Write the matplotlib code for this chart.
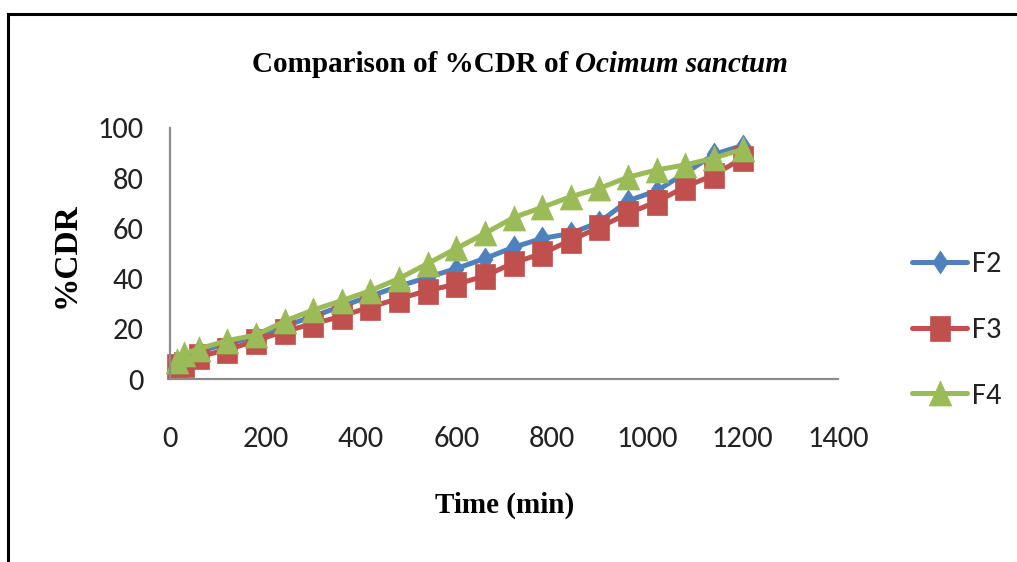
import matplotlib
matplotlib.use('Agg')
import matplotlib.pyplot as plt
from matplotlib.path import Path
from matplotlib.lines import Line2D
from matplotlib import font_manager

# ---------------- data ----------------
time_min = [15, 30, 60, 120, 180, 240, 300, 360, 420, 480, 540, 600,
            660, 720, 780, 840, 900, 960, 1020, 1080, 1140, 1200]
f2 = [6, 8, 11, 14, 17, 21, 25, 29, 33, 37, 40.5, 44,
      48, 52.5, 56, 58, 62.5, 71, 75, 82, 89.5, 93]
f3 = [5, 6, 9, 11.6, 15.3, 19, 22, 25, 28.8, 32, 35.2, 37.8,
      41, 46.3, 50, 55.3, 60.4, 66, 70.6, 76.6, 81.3, 88]
f4 = [7, 10, 12, 15.3, 17.5, 23, 27.5, 31.2, 35.2, 40, 46, 52,
      58, 64.3, 68.4, 72.6, 76, 80.4, 83.3, 85.3, 88, 91.5]
series_names = ['F2', 'F3', 'F4']
x_ticks = [0, 200, 400, 600, 800, 1000, 1200, 1400]
y_ticks = [0, 20, 40, 60, 80, 100]

title_main = 'Comparison of %CDR of '
title_italic = 'Ocimum sanctum'
x_label = 'Time (min)'
y_label = '%CDR'

# ---------------- fonts ----------------
avail = {f.name for f in font_manager.fontManager.ttflist}
sans = ['Carlito', 'Liberation Sans Narrow', 'Liberation Sans', 'DejaVu Sans']
sans = [f for f in sans if f in avail] or ['DejaVu Sans']
serif = ['Liberation Serif', 'DejaVu Serif']
tick_size = 22 if sans[0] == 'Carlito' else 20

W, H = 1017, 562
fig = plt.figure(figsize=(W / 100, H / 100), dpi=100)
fig.patch.set_facecolor('white')

def fx(px):
    return px / W

def fy(py):
    return 1 - py / H

ax = fig.add_axes([fx(170), fy(379), fx(838) - fx(170), fy(128) - fy(379)])

# custom (slightly tall) markers
diamond = Path([(0, 0.5), (0.33, 0), (0, -0.5), (-0.33, 0), (0, 0.5)],
               [Path.MOVETO, Path.LINETO, Path.LINETO, Path.LINETO, Path.CLOSEPOLY])
square = Path([(-0.4, -0.5), (0.4, -0.5), (0.4, 0.5), (-0.4, 0.5), (-0.4, -0.5)],
              [Path.MOVETO, Path.LINETO, Path.LINETO, Path.LINETO, Path.CLOSEPOLY])
triangle = Path([(0, 0.5), (0.45, -0.5), (-0.45, -0.5), (0, 0.5)],
                [Path.MOVETO, Path.LINETO, Path.LINETO, Path.CLOSEPOLY])

colors = ['#4F81BD', '#C0504D', '#9BBB59']
markers = [diamond, square, triangle]
msizes = [16.5, 18, 18]
data = [f2, f3, f4]

handles = []
for name, vals, c, m, ms in zip(series_names, data, colors, markers, msizes):
    h, = ax.plot(time_min, vals, color=c, lw=3.6, marker=m, markersize=ms,
                 markerfacecolor=c, markeredgecolor=c, markeredgewidth=0.5,
                 solid_capstyle='round', label=name, clip_on=False)
    handles.append(h)

ax.set_xlim(0, 1400)
ax.set_ylim(0, 100)
ax.set_xticks(x_ticks)
ax.set_yticks(y_ticks)
ax.set_xticklabels([str(v) for v in x_ticks])
ax.set_yticklabels([str(v) for v in y_ticks])
for lab in ax.get_xticklabels() + ax.get_yticklabels():
    lab.set_family(sans)
    lab.set_fontsize(tick_size)
    lab.set_color('#222222')
ax.tick_params(axis='both', length=0)
ax.tick_params(axis='x', pad=34)
ax.tick_params(axis='y', pad=19)
for s in ['top', 'right']:
    ax.spines[s].set_visible(False)
for s in ['left', 'bottom']:
    ax.spines[s].set_color('#8c8c8c')
    ax.spines[s].set_linewidth(1.6)
ax.set_facecolor('white')

# titles / labels
fig.canvas.draw()
renderer = fig.canvas.get_renderer()
t1 = fig.text(0, fy(65), title_main, family=serif, weight='bold', fontsize=21,
              ha='left', va='center')
t2 = fig.text(0, fy(65), title_italic, family=serif, weight='bold', style='italic',
              fontsize=21, ha='left', va='center')
w1 = t1.get_window_extent(renderer).width
w2 = t2.get_window_extent(renderer).width
x0 = 520 - (w1 + w2) / 2
t1.set_x(fx(x0))
t2.set_x(fx(x0 + w1))

fig.text(fx(505), fy(505), x_label, family=serif, weight='bold', fontsize=21,
         ha='center', va='center')
fig.text(fx(66), fy(255), y_label, family=serif, weight='bold', fontsize=24,
         ha='center', va='center', rotation=90)

leg = fig.legend(handles, series_names, loc='center left',
                 bbox_to_anchor=(fx(912), fy(330)), bbox_transform=fig.transFigure,
                 frameon=False, borderpad=0, borderaxespad=0,
                 handlelength=1.9 * 21 / tick_size, handletextpad=0.15,
                 labelspacing=1.35 * 21 / tick_size,
                 prop={'family': sans, 'size': tick_size})
for t in leg.get_texts():
    t.set_color('#222222')

# outer frame lines (top and left)
fig.add_artist(Line2D([fx(8), fx(8)], [0, fy(14)], transform=fig.transFigure,
                      color='black', lw=2.2))
fig.add_artist(Line2D([fx(8), 1], [fy(14), fy(14)], transform=fig.transFigure,
                      color='black', lw=2.2))

fig.savefig('out.png', dpi=100)
